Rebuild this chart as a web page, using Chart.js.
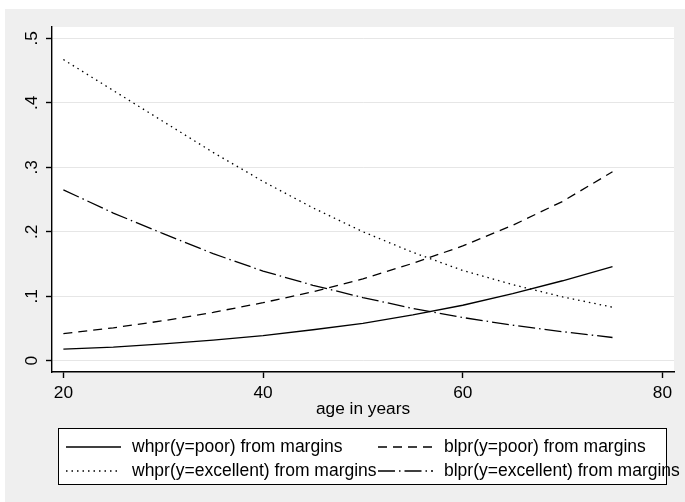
<!DOCTYPE html>
<html>
<head>
<meta charset="utf-8">
<script src="https://cdn.jsdelivr.net/npm/chart.js@4"></script>
<style>
  html, body { margin: 0; padding: 0; background: #fff; }
  #wrap { width: 685px; height: 502px; position: relative; }
</style>
</head>
<body>
<div id="wrap"><canvas id="chart"></canvas></div>
<script>
const ages = [20, 25, 30, 35, 40, 45, 50, 55, 60, 65, 70, 75];
const whPoor = [0.018, 0.021, 0.026, 0.032, 0.039, 0.048, 0.058, 0.071, 0.086, 0.104, 0.124, 0.146];
const blPoor = [0.042, 0.051, 0.062, 0.075, 0.090, 0.107, 0.127, 0.151, 0.178, 0.210, 0.247, 0.293];
const whExcellent = [0.467, 0.419, 0.371, 0.323, 0.278, 0.237, 0.200, 0.168, 0.140, 0.118, 0.099, 0.083];
const blExcellent = [0.265, 0.229, 0.197, 0.166, 0.139, 0.117, 0.098, 0.081, 0.067, 0.055, 0.045, 0.036];
const seriesLabels = [
  "whpr(y=poor) from margins",
  "blpr(y=poor) from margins",
  "whpr(y=excellent) from margins",
  "blpr(y=excellent) from margins",
];
const xTicks = [20, 40, 60, 80];
const yTicks = [0, 0.1, 0.2, 0.3, 0.4, 0.5];

const FONT = "'Liberation Sans', Arial, sans-serif";
Chart.defaults.font.family = FONT;
Chart.defaults.font.size = 17.3;
Chart.defaults.color = "#000";

const toPoints = (vals) => vals.map((v, i) => ({ x: ages[i], y: v }));

const lineStyle = (dash) => ({
  borderColor: "#000",
  borderWidth: 1.3,
  borderDash: dash,
  pointRadius: 0,
  tension: 0,
  fill: false,
});

// backgrounds: white margin, light gray graph region, white plot region
const backdrop = {
  id: "backdrop",
  beforeDraw(chart) {
    const { ctx, chartArea: a } = chart;
    ctx.save();
    ctx.fillStyle = "#fff";
    ctx.fillRect(0, 0, chart.width, chart.height);
    ctx.fillStyle = "#efefef";
    ctx.fillRect(5, 9, chart.width - 5, chart.height - 9);
    ctx.fillStyle = "#fff";
    ctx.fillRect(a.left, a.top, a.right - a.left, a.bottom - a.top);
    ctx.restore();
  },
};

// boxed two-column legend like Stata's
const boxLegend = {
  id: "boxLegend",
  afterDraw(chart) {
    const { ctx } = chart;
    const box = { l: 58.5, t: 428.5, r: 666.5, b: 484.5 };
    const cols = [{ x: 66, tx: 132 }, { x: 378, tx: 444 }];
    const rows = [447, 471];
    ctx.save();
    ctx.fillStyle = "#fff";
    ctx.fillRect(box.l, box.t, box.r - box.l, box.b - box.t);
    ctx.strokeStyle = "#000";
    ctx.lineWidth = 1;
    ctx.strokeRect(box.l, box.t, box.r - box.l, box.b - box.t);
    chart.data.datasets.forEach((ds, i) => {
      const c = cols[i % 2];
      const y = rows[Math.floor(i / 2)];
      ctx.beginPath();
      ctx.setLineDash(ds.borderDash || []);
      ctx.lineWidth = ds.borderWidth;
      ctx.strokeStyle = ds.borderColor;
      ctx.moveTo(c.x, y);
      ctx.lineTo(c.x + 55, y);
      ctx.stroke();
      ctx.setLineDash([]);
      ctx.fillStyle = "#000";
      ctx.font = "17.5px " + FONT;
      ctx.textBaseline = "middle";
      ctx.textAlign = "left";
      ctx.fillText(ds.label, c.tx, y);
    });
    ctx.restore();
  },
};

new Chart(document.getElementById("chart"), {
  type: "line",
  data: {
    datasets: [
      { label: seriesLabels[0], data: toPoints(whPoor), ...lineStyle([]) },
      { label: seriesLabels[1], data: toPoints(blPoor), ...lineStyle([9, 6]) },
      { label: seriesLabels[2], data: toPoints(whExcellent), ...lineStyle([1.5, 4]) },
      { label: seriesLabels[3], data: toPoints(blExcellent), ...lineStyle([17, 4, 1.5, 4]) },
    ],
  },
  options: {
    responsive: true,
    maintainAspectRatio: false,
    animation: false,
    layout: { padding: { top: 27, right: 11, left: 0, bottom: 0 } },
    plugins: {
      legend: { display: false },
      tooltip: { enabled: false },
    },
    scales: {
      x: {
        type: "linear",
        min: 18.86,
        max: 81.16,
        afterBuildTicks: (scale) => {
          scale.ticks = xTicks.map((v) => ({ value: v }));
        },
        afterFit: (scale) => {
          scale.height = 130;
        },
        ticks: {
          padding: 5,
          callback: (v) => String(v),
        },
        grid: {
          drawOnChartArea: false,
          tickLength: 6,
          tickColor: "#000",
          tickWidth: 1.4,
        },
        border: { display: true, color: "#000", width: 1.4 },
        title: {
          display: true,
          text: "age in years",
          padding: { top: 0, bottom: 82 },
        },
      },
      y: {
        type: "linear",
        min: -0.0175,
        max: 0.5175,
        afterBuildTicks: (scale) => {
          scale.ticks = yTicks.map((v) => ({ value: v }));
        },
        afterFit: (scale) => {
          scale.width = 52;
        },
        ticks: {
          minRotation: 90,
          maxRotation: 90,
          crossAlign: "center",
          padding: 7,
          callback: (v) => (v === 0 ? "0" : String(Math.round(v * 10) / 10).replace(/^0/, "")),
        },
        grid: {
          color: "#e6e6e6",
          lineWidth: 1,
          tickLength: 6,
          tickColor: "#000",
          tickWidth: 1.4,
        },
        border: { display: true, color: "#000", width: 1.4 },
      },
    },
  },
  plugins: [backdrop, boxLegend],
});
</script>
</body>
</html>
